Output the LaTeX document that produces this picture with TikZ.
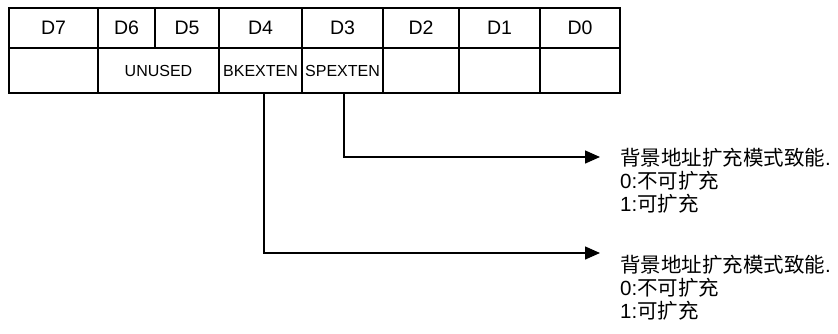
\documentclass[tikz,border=0pt]{standalone}
\usepackage{fontspec}
\setmainfont{Liberation Sans}
\newfontfamily\cjk{Noto Sans CJK SC}
\usetikzlibrary{arrows.meta}
\tikzset{
  cell/.style={draw, line width=2pt, inner sep=0pt, outer sep=0pt, anchor=north west},
  toprow/.style={cell, minimum height=40pt, font=\fontsize{19.5}{20}\selectfont},
  botrow/.style={cell, minimum height=45pt, font=\fontsize{16}{16}\selectfont},
  conn/.style={line width=1.4pt, -{Triangle[length=15pt,width=13pt]}},
  note/.style={anchor=north west, align=left, inner sep=0pt, font=\fontsize{20.5}{23}\selectfont}
}
\begin{document}
\begin{tikzpicture}[x=1pt,y=-1pt]
  \useasboundingbox (0,0) rectangle (838,333);
  % bit numbers
  \node[toprow, minimum width=89pt] (d7) at (9,8) {D7};
  \node[toprow, minimum width=57pt] (d6) at (98,8) {D6};
  \node[toprow, minimum width=64pt] (d5) at (155,8) {D5};
  \node[toprow, minimum width=83pt] (d4) at (219,8) {D4};
  \node[toprow, minimum width=81pt] (d3) at (302,8) {D3};
  \node[toprow, minimum width=76pt] (d2) at (383,8) {D2};
  \node[toprow, minimum width=81pt] (d1) at (459,8) {D1};
  \node[toprow, minimum width=80pt] (d0) at (540,8) {D0};
  % field names
  \node[botrow, minimum width=89pt] (b7) at (9,48) {};
  \node[botrow, minimum width=121pt] (unused) at (98,48) {UNUSED};
  \node[botrow, minimum width=83pt] (bk) at (219,48) {BKEXTEN};
  \node[botrow, minimum width=81pt] (sp) at (302,48) {SPEXTEN};
  \node[botrow, minimum width=76pt] (b2) at (383,48) {};
  \node[botrow, minimum width=81pt] (b1) at (459,48) {};
  \node[botrow, minimum width=80pt] (b0) at (540,48) {};
  % descriptions
  \coordinate (tipsp) at (600,157);
  \coordinate (tipbk) at (600,253);
  \draw[conn] ([xshift=1.5pt]sp.south) |- (tipsp);
  \draw[conn] ([xshift=3.5pt]bk.south) |- (tipbk);
  \node[note] (spnote) at (620,148) {{\cjk 背景地址扩充模式致能}.\\0:{\cjk 不可扩充}\\1:{\cjk 可扩充}};
  \node[note] (bknote) at (620,255) {{\cjk 背景地址扩充模式致能}.\\0:{\cjk 不可扩充}\\1:{\cjk 可扩充}};
\end{tikzpicture}
\end{document}
